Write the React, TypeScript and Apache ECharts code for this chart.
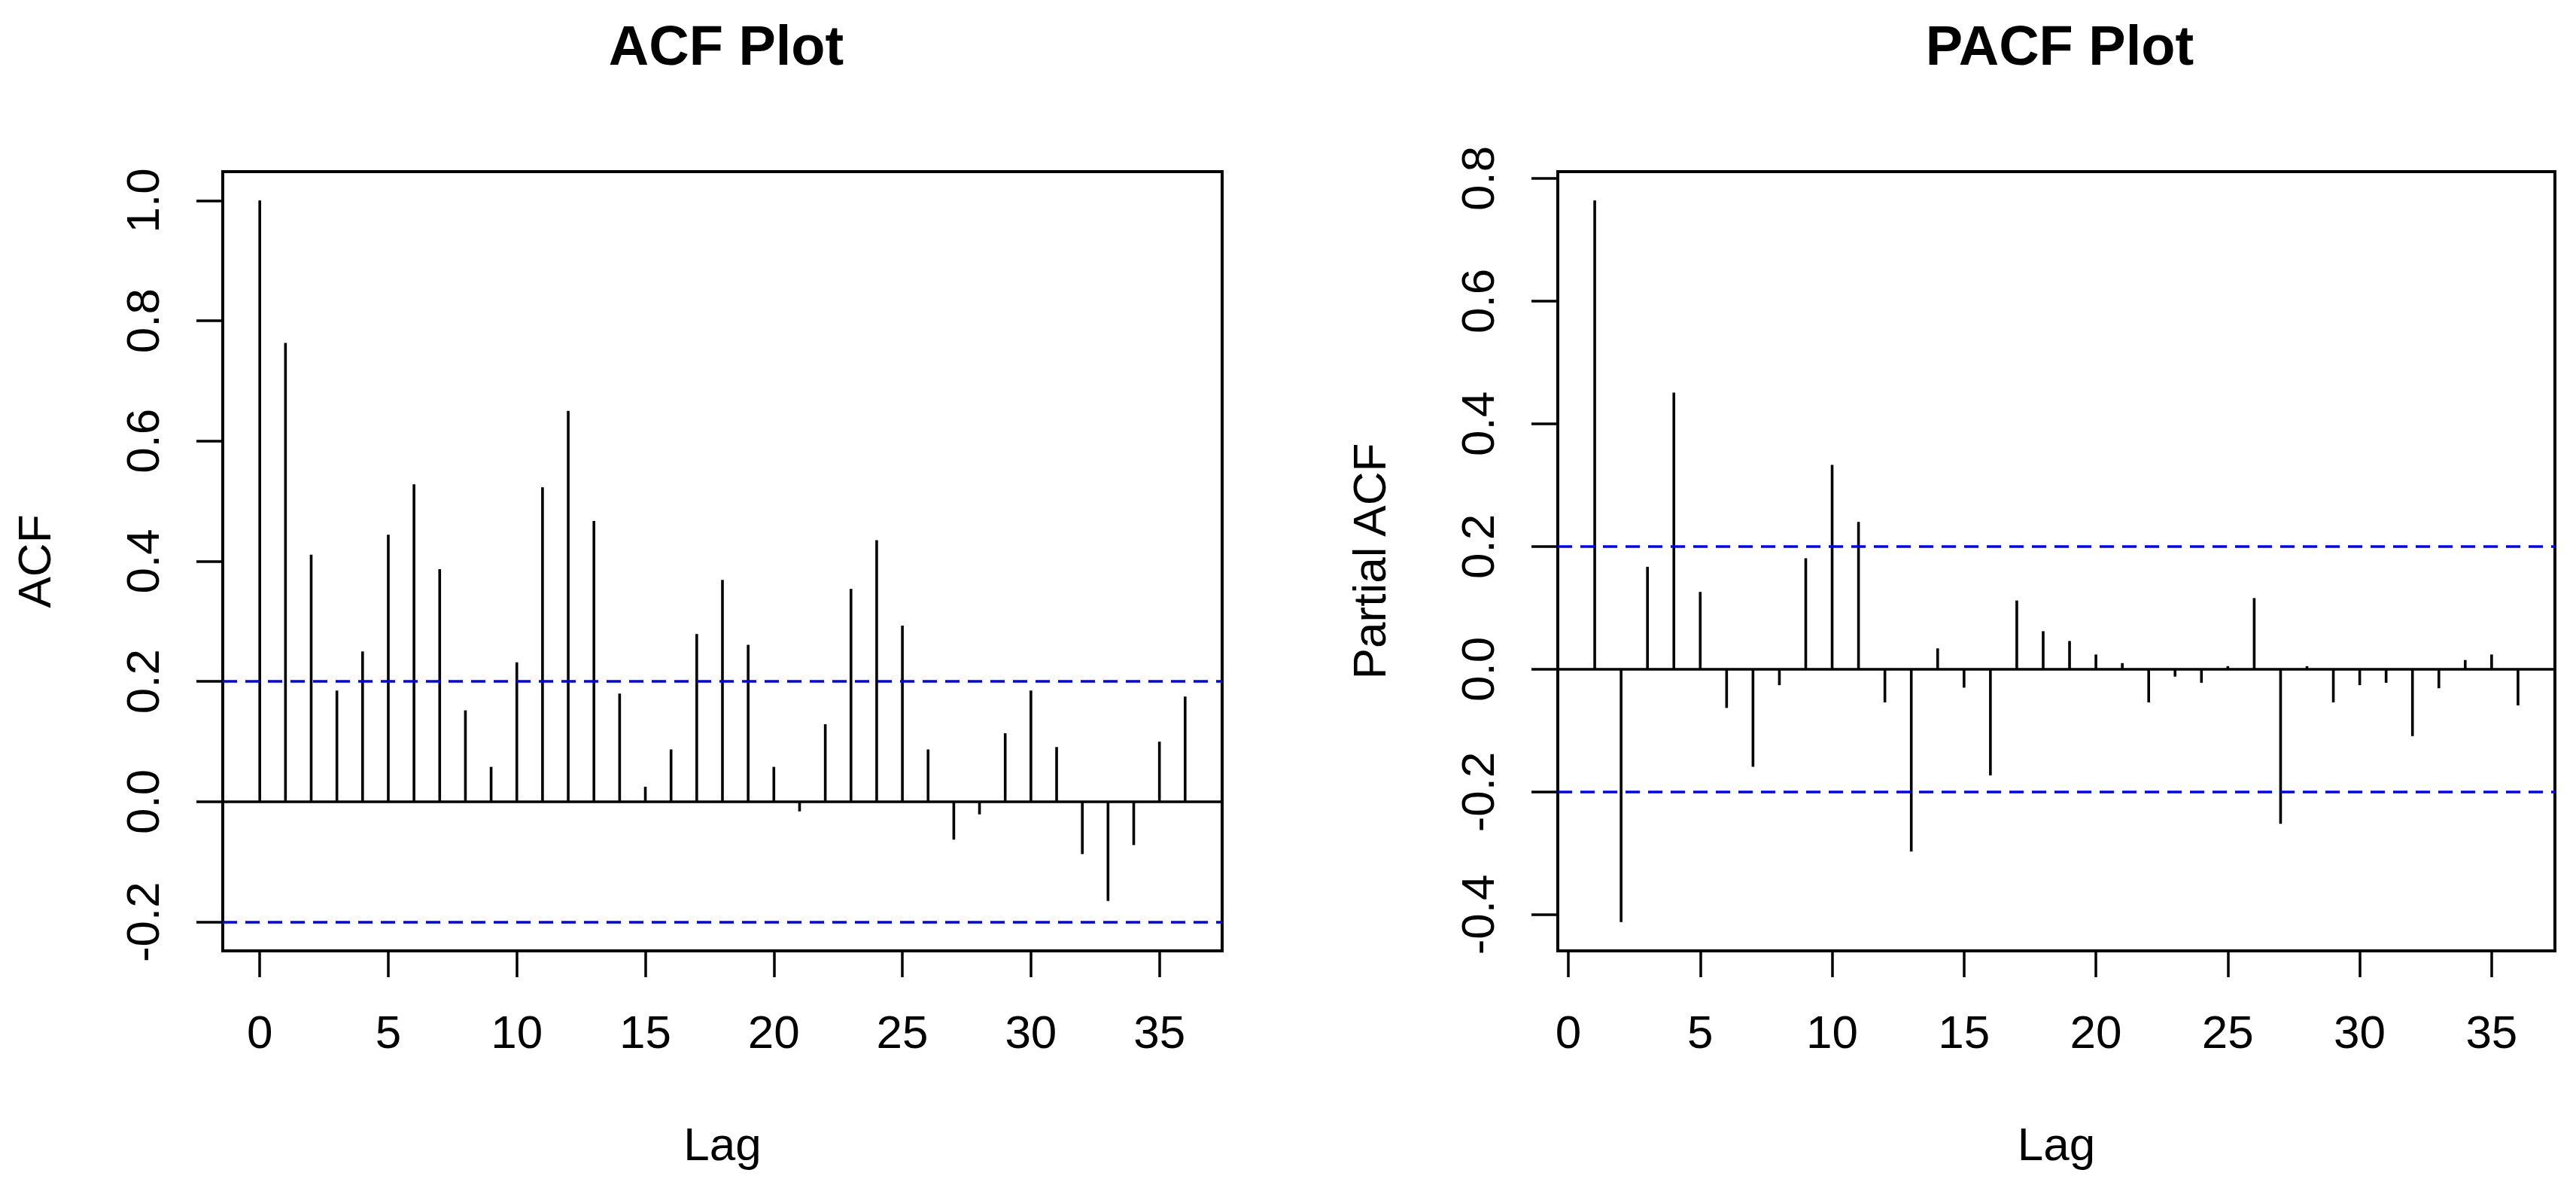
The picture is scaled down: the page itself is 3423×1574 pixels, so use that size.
import React, { useEffect, useRef } from "react";
import * as echarts from "echarts";

const acfLags = [0, 1, 2, 3, 4, 5, 6, 7, 8, 9, 10, 11, 12, 13, 14, 15, 16, 17, 18, 19, 20, 21, 22, 23, 24, 25, 26, 27, 28, 29, 30, 31, 32, 33, 34, 35, 36];
const acfValues = [1.0, 0.763, 0.411, 0.185, 0.25, 0.444, 0.528, 0.387, 0.152, 0.058, 0.232, 0.523, 0.65, 0.467, 0.18, 0.025, 0.087, 0.279, 0.369, 0.261, 0.058, -0.016, 0.129, 0.354, 0.435, 0.293, 0.087, -0.063, -0.021, 0.114, 0.185, 0.091, -0.087, -0.165, -0.072, 0.1, 0.175];

const pacfLags = [1, 2, 3, 4, 5, 6, 7, 8, 9, 10, 11, 12, 13, 14, 15, 16, 17, 18, 19, 20, 21, 22, 23, 24, 25, 26, 27, 28, 29, 30, 31, 32, 33, 34, 35, 36];
const pacfValues = [0.764, -0.412, 0.167, 0.451, 0.126, -0.063, -0.159, -0.026, 0.181, 0.333, 0.24, -0.054, -0.297, 0.034, -0.03, -0.173, 0.112, 0.062, 0.046, 0.024, 0.01, -0.054, -0.012, -0.022, 0.005, 0.116, -0.252, 0.005, -0.054, -0.026, -0.022, -0.109, -0.031, 0.015, 0.024, -0.059];

const lagTicks = [0, 5, 10, 15, 20, 25, 30, 35];
const acfYTicks = [-0.2, 0.0, 0.2, 0.4, 0.6, 0.8, 1.0];
const pacfYTicks = [-0.4, -0.2, 0.0, 0.2, 0.4, 0.6, 0.8];
const confLimit = 0.2;

const FONT = "'Liberation Sans', Arial, sans-serif";
const FS = 62;

function xAxisDef(gridIndex: number, min: number, max: number) {
  return {
    type: "value",
    gridIndex,
    min,
    max,
    name: "Lag",
    nameLocation: "middle",
    nameGap: 225,
    nameTextStyle: { fontFamily: FONT, fontSize: FS, color: "#000" },
    axisLine: { show: false, onZero: false },
    splitLine: { show: false },
    axisTick: {
      show: true,
      length: 35,
      customValues: lagTicks,
      lineStyle: { color: "#000", width: 3.5 },
    },
    axisLabel: {
      show: true,
      customValues: lagTicks,
      margin: 76,
      fontFamily: FONT,
      fontSize: FS,
      color: "#000",
    },
  };
}

function yAxisDef(gridIndex: number, min: number, max: number, ticks: number[], name: string) {
  return {
    type: "value",
    gridIndex,
    min,
    max,
    name,
    nameLocation: "middle",
    nameGap: 220,
    nameRotate: 90,
    nameTextStyle: { fontFamily: FONT, fontSize: FS, color: "#000" },
    axisLine: { show: false, onZero: false },
    splitLine: { show: false },
    axisTick: {
      show: true,
      length: 35,
      customValues: ticks,
      lineStyle: { color: "#000", width: 3.5 },
    },
    axisLabel: {
      show: true,
      customValues: ticks,
      rotate: 90,
      margin: 76,
      fontFamily: FONT,
      fontSize: FS,
      color: "#000",
      formatter: (v: number) => v.toFixed(1),
    },
  };
}

function barSeries(idx: number, lags: number[], values: number[]) {
  return {
    type: "bar",
    xAxisIndex: idx,
    yAxisIndex: idx,
    barWidth: 3.6,
    itemStyle: { color: "#000" },
    data: lags.map((l, i) => [l, values[i]]),
    silent: true,
    markLine: {
      silent: true,
      symbol: "none",
      label: { show: false },
      data: [
        { yAxis: 0, lineStyle: { color: "#000", width: 3.5, type: "solid" } },
        { yAxis: confLimit, lineStyle: { color: "#0000FF", width: 3.5, type: [19, 11] } },
        { yAxis: -confLimit, lineStyle: { color: "#0000FF", width: 3.5, type: [19, 11] } },
      ],
    },
  };
}

export default function App() {
  const ref = useRef<HTMLDivElement>(null);
  useEffect(() => {
    document.body.style.margin = "0";
    document.body.style.overflow = "hidden";
    if (!ref.current) return;
    const chart = echarts.init(ref.current, null, { renderer: "svg" });
    chart.setOption({
      animation: false,
      backgroundColor: "#fff",
      title: [
        {
          text: "ACF Plot",
          left: 960,
          textAlign: "center",
          top: 18,
          textStyle: { fontFamily: FONT, fontSize: 74, fontWeight: "bold", color: "#000" },
        },
        {
          text: "PACF Plot",
          left: 2732,
          textAlign: "center",
          top: 18,
          textStyle: { fontFamily: FONT, fontSize: 74, fontWeight: "bold", color: "#000" },
        },
      ],
      grid: [
        { left: 296, top: 228, width: 1328, height: 1035, show: true, borderColor: "#000", borderWidth: 4, backgroundColor: "transparent" },
        { left: 2070, top: 228, width: 1325, height: 1035, show: true, borderColor: "#000", borderWidth: 4, backgroundColor: "transparent" },
      ],
      xAxis: [xAxisDef(0, -1.44, 37.44), xAxisDef(1, -0.4, 37.4)],
      yAxis: [
        yAxisDef(0, -0.248, 1.048, acfYTicks, "ACF"),
        yAxisDef(1, -0.459, 0.811, pacfYTicks, "Partial ACF"),
      ],
      series: [barSeries(0, acfLags, acfValues), barSeries(1, pacfLags, pacfValues)],
    });
    return () => chart.dispose();
  }, []);
  return (
    <div
      ref={ref}
      style={{ position: "absolute", left: 0, top: 0, width: "3423px", height: "1574px" }}
    />
  );
}
